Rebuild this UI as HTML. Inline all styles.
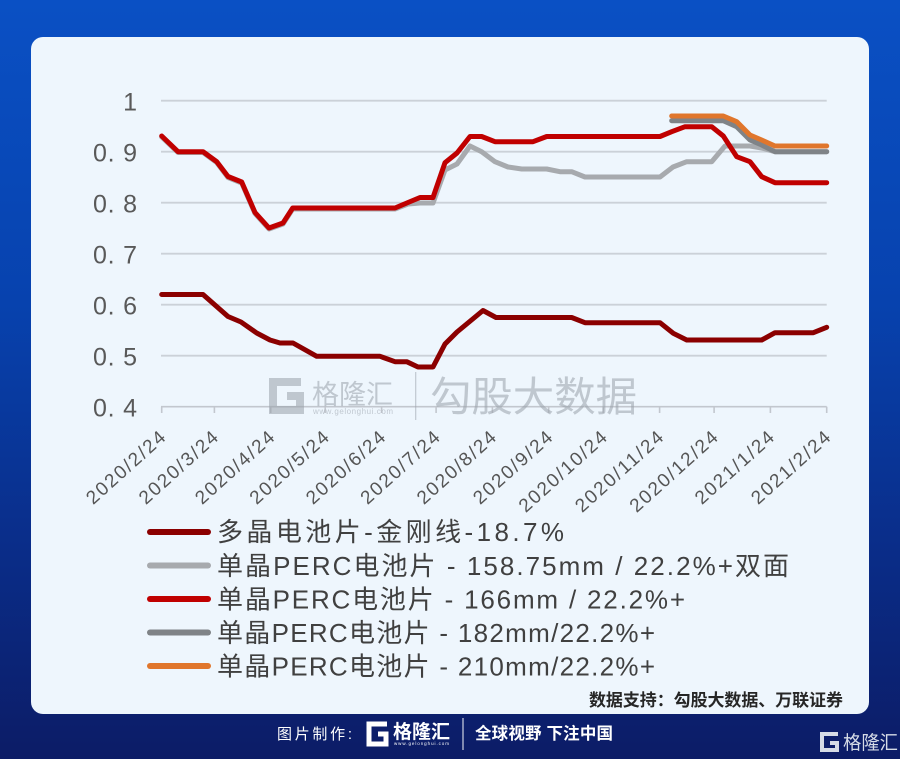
<!DOCTYPE html>
<html>
<head>
<meta charset="utf-8">
<style>
  html,body{margin:0;padding:0;background:#0a3aa0;}
  svg{display:block;}
  .cjk{font-family:"Liberation Sans","Noto Sans CJK SC",sans-serif;}
</style>
</head>
<body>
<svg width="900" height="759" viewBox="0 0 900 759" xmlns="http://www.w3.org/2000/svg">
  <defs>
    <linearGradient id="bg" x1="0" y1="0" x2="0" y2="1">
      <stop offset="0" stop-color="#0a50c4"/>
      <stop offset="0.4" stop-color="#0742ae"/>
      <stop offset="0.72" stop-color="#0a2d89"/>
      <stop offset="1" stop-color="#0c1c66"/>
    </linearGradient>
  </defs>
  <rect x="0" y="0" width="900" height="759" fill="url(#bg)"/>
  <rect x="31" y="37" width="838" height="677" rx="12" ry="12" fill="#eef6fd"/>

  <!-- gridlines -->
  <g stroke="#cbd1d8" stroke-width="1.8">
    <line x1="161" y1="100.7" x2="826.7" y2="100.7"/>
    <line x1="161" y1="151.7" x2="826.7" y2="151.7"/>
    <line x1="161" y1="202.7" x2="826.7" y2="202.7"/>
    <line x1="161" y1="253.7" x2="826.7" y2="253.7"/>
    <line x1="161" y1="304.7" x2="826.7" y2="304.7"/>
    <line x1="161" y1="355.7" x2="826.7" y2="355.7"/>
  </g>
  <!-- axis -->
  <g stroke="#c2c7ce" stroke-width="1.6">
    <line x1="161" y1="406.7" x2="826.7" y2="406.7"/>
    <line x1="161.7" y1="406.7" x2="161.7" y2="413"/>
    <line x1="214.4" y1="406.7" x2="214.4" y2="413"/>
    <line x1="270.7" y1="406.7" x2="270.7" y2="413"/>
    <line x1="325.2" y1="406.7" x2="325.2" y2="413"/>
    <line x1="381.6" y1="406.7" x2="381.6" y2="413"/>
    <line x1="436.1" y1="406.7" x2="436.1" y2="413"/>
    <line x1="492.4" y1="406.7" x2="492.4" y2="413"/>
    <line x1="548.7" y1="406.7" x2="548.7" y2="413"/>
    <line x1="603.2" y1="406.7" x2="603.2" y2="413"/>
    <line x1="659.6" y1="406.7" x2="659.6" y2="413"/>
    <line x1="714.1" y1="406.7" x2="714.1" y2="413"/>
    <line x1="770.4" y1="406.7" x2="770.4" y2="413"/>
    <line x1="826.7" y1="406.7" x2="826.7" y2="413"/>
  </g>

  <!-- y labels -->
  <g font-family="Liberation Sans, sans-serif" font-size="25" fill="#595959" text-anchor="end">
    <text x="137" y="110.5">1</text>
    <text x="137" y="161.5" textLength="44" lengthAdjust="spacing">0. 9</text>
    <text x="137" y="212.5" textLength="44" lengthAdjust="spacing">0. 8</text>
    <text x="137" y="263.5" textLength="44" lengthAdjust="spacing">0. 7</text>
    <text x="137" y="314.5" textLength="44" lengthAdjust="spacing">0. 6</text>
    <text x="137" y="365.5" textLength="44" lengthAdjust="spacing">0. 5</text>
    <text x="137" y="416.5" textLength="44" lengthAdjust="spacing">0. 4</text>
  </g>

  <!-- x labels -->
  <g font-family="Liberation Sans, sans-serif" font-size="19" fill="#555555" text-anchor="end">
    <text x="166.7" y="439" transform="rotate(-42 166.7 439)" textLength="99" lengthAdjust="spacing">2020/2/24</text>
    <text x="219.4" y="439" transform="rotate(-42 219.4 439)" textLength="99" lengthAdjust="spacing">2020/3/24</text>
    <text x="275.7" y="439" transform="rotate(-42 275.7 439)" textLength="99" lengthAdjust="spacing">2020/4/24</text>
    <text x="330.2" y="439" transform="rotate(-42 330.2 439)" textLength="99" lengthAdjust="spacing">2020/5/24</text>
    <text x="386.6" y="439" transform="rotate(-42 386.6 439)" textLength="99" lengthAdjust="spacing">2020/6/24</text>
    <text x="441.1" y="439" transform="rotate(-42 441.1 439)" textLength="99" lengthAdjust="spacing">2020/7/24</text>
    <text x="497.4" y="439" transform="rotate(-42 497.4 439)" textLength="99" lengthAdjust="spacing">2020/8/24</text>
    <text x="553.7" y="439" transform="rotate(-42 553.7 439)" textLength="99" lengthAdjust="spacing">2020/9/24</text>
    <text x="608.2" y="439" transform="rotate(-42 608.2 439)" textLength="111" lengthAdjust="spacing">2020/10/24</text>
    <text x="664.6" y="439" transform="rotate(-42 664.6 439)" textLength="111" lengthAdjust="spacing">2020/11/24</text>
    <text x="719.1" y="439" transform="rotate(-42 719.1 439)" textLength="111" lengthAdjust="spacing">2020/12/24</text>
    <text x="775.4" y="439" transform="rotate(-42 775.4 439)" textLength="99" lengthAdjust="spacing">2021/1/24</text>
    <text x="831.7" y="439" transform="rotate(-42 831.7 439)" textLength="99" lengthAdjust="spacing">2021/2/24</text>
  </g>

  <!-- series -->
  <g fill="none" stroke-width="5" stroke-linejoin="round" stroke-linecap="round">
    <polyline stroke="#8b0000" points="161.7,294.5 203,294.5 228,316.5 241,322 256.7,333 270,340 280,343 293,343 316.7,356.3 380,356.3 395,361.7 406.7,361.7 418,367 433,367 445,344 457,332 483,310.5 496,317.5 571.7,317.5 585,322.7 660,322.7 673.3,333.3 686.7,340 761.7,340 775,332.7 813.3,332.7 826.7,327.3"/>
    <polyline stroke="#a7aaae" points="161.7,137 178,152.5 203,152.5 216.7,162.5 228,177.5 241.7,183 255,213.5 269,229 283,224 292.7,209 395,209 408,204 420,203 433,203 445,170 457,164 470,146 481.7,151.7 495,161.7 508,167 521.7,169 546.7,169 560,171.7 571.7,171.7 585,177 660,177 673,167 686.7,161.7 711.7,161.7 725,146 750,146 761.7,148 775,151.7 826.7,151.7"/>
    <polyline stroke="#c00000" points="161.7,136 178,151.7 203,151.7 216.7,161.7 228,176.5 241.7,182 255,212.5 269,228 283,223 292.7,208 395,208 408,202.5 420,197.5 433,197.5 445,162.7 457,153 470,136.5 481.7,136.5 495,141.7 533,141.7 546.7,136.5 660,136.5 671.7,131.7 685,126.7 711.7,126.7 723.3,136 736.7,156.7 750,161.7 761.7,176.7 775,182.7 826.7,182.7"/>
    <polyline stroke="#7f8387" points="671.7,120.7 723.3,120.7 736.7,126.7 750,140 761.7,145 775,151.7 826.7,151.7"/>
    <polyline stroke="#e0762c" points="671.7,116 723.3,116 736.7,121.7 750,135 761.7,140 775,146 826.7,146"/>
  </g>

  <!-- watermark -->
  <g opacity="0.55">
    <path d="M301,382 H273 V410 H300 V396 H287" fill="none" stroke="#9aa1ab" stroke-width="8"/>
    <text x="312" y="404" class="cjk" font-size="27" fill="#9aa1ab" textLength="81" lengthAdjust="spacingAndGlyphs">格隆汇</text>
    <text x="313" y="414" font-family="Liberation Sans, sans-serif" font-size="8" fill="#9aa1ab" textLength="80" lengthAdjust="spacing">www.gelonghui.com</text>
    <line x1="415.7" y1="372" x2="415.7" y2="420" stroke="#9aa1ab" stroke-width="1.2"/>
    <text x="430" y="411" class="cjk" font-size="41" fill="#9aa1ab" textLength="207" lengthAdjust="spacingAndGlyphs">勾股大数据</text>
  </g>

  <!-- legend -->
  <g stroke-width="6" stroke-linecap="round">
    <line x1="150" y1="532" x2="208" y2="532" stroke="#8b0000"/>
    <line x1="150" y1="565.5" x2="208" y2="565.5" stroke="#a7aaae"/>
    <line x1="150" y1="599" x2="208" y2="599" stroke="#c00000"/>
    <line x1="150" y1="632.5" x2="208" y2="632.5" stroke="#7f8387"/>
    <line x1="150" y1="666" x2="208" y2="666" stroke="#e0762c"/>
  </g>
  <g class="cjk" font-size="26" fill="#404040">
    <text x="217" y="541" textLength="347" lengthAdjust="spacing">多晶电池片-金刚线-18.7%</text>
    <text x="217" y="575" textLength="572" lengthAdjust="spacing">单晶PERC电池片 - 158.75mm / 22.2%+双面</text>
    <text x="217" y="608.5" textLength="468" lengthAdjust="spacing">单晶PERC电池片 - 166mm / 22.2%+</text>
    <text x="217" y="642" textLength="438" lengthAdjust="spacing">单晶PERC电池片 - 182mm/22.2%+</text>
    <text x="217" y="675.5" textLength="438" lengthAdjust="spacing">单晶PERC电池片 - 210mm/22.2%+</text>
  </g>

  <!-- source -->
  <text x="589" y="706" class="cjk" font-size="17" font-weight="bold" fill="#262626" textLength="254" lengthAdjust="spacing">数据支持：勾股大数据、万联证券</text>

  <!-- footer -->
  <text x="277" y="739" class="cjk" font-size="15" fill="#ffffff" textLength="75" lengthAdjust="spacing">图片制作:</text>
  <path d="M387,724 H369 V744 H386 V734 H378" fill="none" stroke="#ffffff" stroke-width="5"/>
  <text x="393" y="738" class="cjk" font-size="19" font-weight="bold" fill="#ffffff" textLength="57" lengthAdjust="spacingAndGlyphs">格隆汇</text>
  <text x="394" y="745" font-family="Liberation Sans, sans-serif" font-size="4.5" fill="#ffffff" textLength="55" lengthAdjust="spacing">www.gelonghui.com</text>
  <line x1="463" y1="718" x2="463" y2="750" stroke="#ffffff" stroke-width="1.2" opacity="0.8"/>
  <text x="475" y="739" class="cjk" font-size="16.5" font-weight="bold" fill="#ffffff" textLength="138" lengthAdjust="spacing">全球视野 下注中国</text>

  <path d="M838,734 H822 V750 H837 V743 H830" fill="none" stroke="#d5dbe6" stroke-width="4"/>
  <text x="843" y="749" class="cjk" font-size="19" fill="#d5dbe6" textLength="55" lengthAdjust="spacingAndGlyphs">格隆汇</text>
</svg>
</body>
</html>
